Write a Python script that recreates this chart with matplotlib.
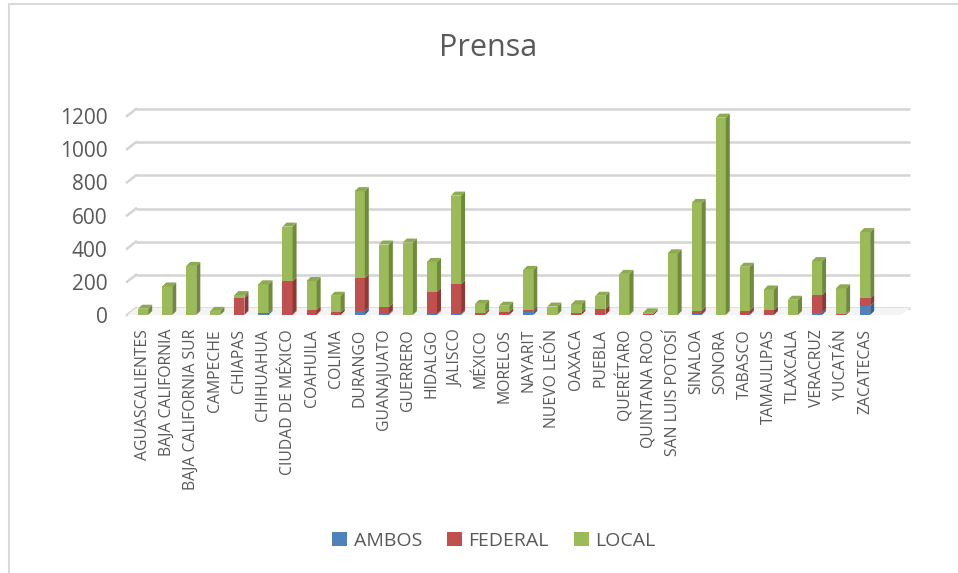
import numpy as np
import matplotlib
matplotlib.use("Agg")
import matplotlib.pyplot as plt
from matplotlib.patches import Polygon, Patch
from matplotlib.lines import Line2D

plt.rcParams['font.family'] = ['Open Sans', 'DejaVu Sans']

## DATOS ##
estados = [
    "AGUASCALIENTES", "BAJA CALIFORNIA", "BAJA CALIFORNIA SUR", "CAMPECHE",
    "CHIAPAS", "CHIHUAHUA", "CIUDAD DE MÉXICO", "COAHUILA", "COLIMA",
    "DURANGO", "GUANAJUATO", "GUERRERO", "HIDALGO", "JALISCO", "MÉXICO",
    "MORELOS", "NAYARIT", "NUEVO LEÓN", "OAXACA", "PUEBLA", "QUERÉTARO",
    "QUINTANA ROO", "SAN LUIS POTOSÍ", "SINALOA", "SONORA", "TABASCO",
    "TAMAULIPAS", "TLAXCALA", "VERACRUZ", "YUCATÁN", "ZACATECAS",
]
ambos = [0, 0, 0, 0, 2, 8, 3, 3, 0, 22, 5, 0, 5, 5, 0,
         0, 18, 0, 0, 0, 0, 0, 0, 6, 0, 3, 0, 0, 15, 0, 56]
federal = [0, 0, 3, 0, 100, 2, 200, 27, 16, 200, 42, 2, 135, 180, 12,
           18, 12, 3, 15, 36, 2, 8, 0, 20, 2, 23, 28, 2, 105, 5, 44]
local = [38, 172, 293, 25, 18, 175, 330, 175, 100, 525, 378, 435, 180, 535, 55,
         38, 242, 48, 50, 80, 246, 8, 372, 650, 1188, 265, 126, 90, 205, 156, 400]
series = ["AMBOS", "FEDERAL", "LOCAL"]
yticks = [0, 200, 400, 600, 800, 1000, 1200]

# colores: frente, lado, tapa
colores = {
    "AMBOS": ("#4f81bd", "#3a6090", "#4574aa"),
    "FEDERAL": ("#c0504d", "#8e3936", "#ad4643"),
    "LOCAL": ("#9bbb59", "#6f8a3c", "#8cab4e"),
}

W, H, DPI = 958, 573, 100
fig = plt.figure(figsize=(W / DPI, H / DPI), dpi=DPI)
ax_l, ax_r, ax_b, ax_t = 127, 901, 315, 116  # pixeles
ax = fig.add_axes([ax_l / W, 1 - ax_b / H, (ax_r - ax_l) / W, (ax_b - ax_t) / H])
xmin, xmax = -0.67, 31.49
ymax = 1200
ax.set_xlim(xmin, xmax)
ax.set_ylim(0, ymax)
for s in ax.spines.values():
    s.set_visible(False)

ux = (xmax - xmin) / (ax_r - ax_l)   # unidades por pixel
uy = ymax / (ax_b - ax_t)

# pared del fondo: rejilla desplazada
gx, gy = 9 * ux, 7 * uy
for v in yticks:
    ax.plot([xmin + gx, xmax + gx], [v + gy, v + gy], color="#d4d4d4", lw=1.8,
            clip_on=False, zorder=1, solid_capstyle="butt")
    ax.plot([xmin, xmin + gx], [v, v + gy], color="#d4d4d4", lw=1.8,
            clip_on=False, zorder=1)
piso = Polygon([[xmin, 0], [xmax, 0], [xmax + gx, gy], [xmin + gx, gy]],
               closed=True, facecolor="#f4f4f4", edgecolor="none", zorder=1, clip_on=False)
ax.add_patch(piso)

# barras 3D
x = np.arange(len(estados))
ancho = 0.42
dx, dy = 4 * ux, 4 * uy
valores = {"AMBOS": np.array(ambos), "FEDERAL": np.array(federal), "LOCAL": np.array(local)}
base = np.zeros(len(estados))
total = valores["AMBOS"] + valores["FEDERAL"] + valores["LOCAL"]
for nombre in series:
    v = valores[nombre]
    frente, lado, tapa = colores[nombre]
    ax.bar(x, v, ancho, bottom=base, color=frente, zorder=3, clip_on=False)
    for i in range(len(estados)):
        if v[i] <= 0:
            continue
        x1 = x[i] + ancho / 2
        y0, y1 = base[i], base[i] + v[i]
        ax.add_patch(Polygon([[x1, y0], [x1 + dx, y0 + dy], [x1 + dx, y1 + dy], [x1, y1]],
                             closed=True, facecolor=lado, edgecolor="none", zorder=3, clip_on=False))
        if np.isclose(y1, total[i]):
            x0 = x[i] - ancho / 2
            ax.add_patch(Polygon([[x0, y1], [x1, y1], [x1 + dx, y1 + dy], [x0 + dx, y1 + dy]],
                                 closed=True, facecolor=tapa, edgecolor="none", zorder=3, clip_on=False))
    base = base + v

ax.set_yticks(yticks)
ax.set_yticklabels([str(t) for t in yticks], fontsize=15, color="#595959")
ax.set_xticks(x)
ax.set_xticklabels(estados, rotation=90, fontsize=11.3, color="#595959")
ax.tick_params(axis="both", length=0)
ax.tick_params(axis="y", pad=14)
ax.tick_params(axis="x", pad=10)

fig.text(488 / W, 1 - 48 / H, "Prensa", ha="center", va="center",
         fontsize=22, color="#595959")

handles = [Patch(facecolor=colores[n][0], label=n) for n in series]
fig.legend(handles=handles, loc="center", bbox_to_anchor=(494 / W, 1 - 541 / H), ncol=3,
           frameon=False, fontsize=14, labelcolor="#595959", handlelength=0.75,
           handleheight=0.75, handletextpad=0.35, columnspacing=1.3)

# borde del area del grafico
fig.add_artist(Line2D([9 / W, 1.0], [1 - 4 / H, 1 - 4 / H], color="#d9d9d9", lw=1.5))
fig.add_artist(Line2D([9 / W, 9 / W], [0, 1 - 4 / H], color="#d9d9d9", lw=1.5))

fig.savefig("out.png", dpi=DPI)
